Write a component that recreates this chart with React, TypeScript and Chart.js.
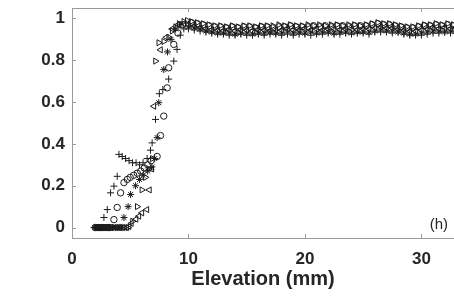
import { useEffect, useRef } from "react";
import { Chart, registerables } from "chart.js";

Chart.register(...registerables);

// ---- Data (elevation in mm, normalized value) ----
// Rising part of each series
const plusRiseX = [1.9, 2.1, 2.3, 2.5, 2.74, 3.03, 3.31, 3.6, 3.88, 4.03, 4.31, 4.6, 4.9, 5.2, 5.5, 5.8, 6.1, 6.45, 6.74, 6.88, 7.17, 7.5, 7.8, 8.3, 8.74, 9.02, 9.3, 9.6];
const plusRiseY = [0, 0, 0, 0, 0.048, 0.086, 0.166, 0.198, 0.245, 0.35, 0.34, 0.33, 0.32, 0.31, 0.31, 0.3, 0.31, 0.33, 0.37, 0.405, 0.517, 0.64, 0.66, 0.71, 0.796, 0.852, 0.92, 0.95];

const circleRiseX = [2.0, 2.25, 2.5, 2.75, 3.0, 3.25, 3.6, 3.88, 4.17, 4.46, 4.75, 5.0, 5.3, 5.6, 5.9, 6.2, 6.5, 6.8, 7.31, 7.6, 7.88, 8.17, 8.3, 8.74, 9.1, 9.5];
const circleRiseY = [0, 0, 0, 0, 0, 0, 0.038, 0.096, 0.166, 0.215, 0.23, 0.24, 0.25, 0.26, 0.27, 0.285, 0.3, 0.32, 0.34, 0.44, 0.533, 0.668, 0.764, 0.876, 0.93, 0.97];

const starRiseX = [1.95, 2.2, 2.45, 2.7, 2.95, 3.2, 3.45, 3.7, 3.95, 4.2, 4.46, 4.82, 5.03, 5.46, 5.8, 6.1, 6.5, 6.86, 7.1, 7.31, 7.45, 7.88, 8.2, 8.5, 8.9, 9.3];
const starRiseY = [0, 0, 0, 0, 0, 0, 0, 0, 0, 0, 0.048, 0.1, 0.158, 0.2, 0.23, 0.25, 0.27, 0.29, 0.33, 0.43, 0.597, 0.756, 0.84, 0.9, 0.95, 0.97];

const triRightRiseX = [2.1, 2.4, 2.7, 3.0, 3.3, 3.6, 3.9, 4.2, 4.5, 4.8, 5.2, 5.6, 6.0, 6.3, 6.6, 6.9, 7.17, 7.45, 7.88, 8.3, 8.6, 8.9, 9.2, 9.6, 9.9];
const triRightRiseY = [0, 0, 0, 0, 0, 0, 0, 0, 0, 0, 0.03, 0.1, 0.18, 0.24, 0.28, 0.33, 0.796, 0.884, 0.89, 0.91, 0.94, 0.96, 0.975, 0.985, 0.99];

const triLeftRiseX = [2.2, 2.6, 3.0, 3.4, 3.8, 4.1, 4.4, 4.7, 4.9, 5.1, 5.5, 5.74, 6.0, 6.43, 6.65, 6.85, 7.03, 7.6, 8.1, 8.6, 9.1, 9.6];
const triLeftRiseY = [0, 0, 0, 0, 0, 0, 0, 0, 0.005, 0.02, 0.04, 0.054, 0.07, 0.086, 0.18, 0.28, 0.58, 0.85, 0.91, 0.95, 0.97, 0.975];

// Plateau part
const plateauElevA = [
  10, 10.5, 11, 11.5, 12, 12.5, 13, 13.5, 14, 14.5,
  15, 15.5, 16, 16.5, 17, 17.5, 18, 18.5, 19, 19.5,
  20, 20.5, 21, 21.5, 22, 22.5, 23, 23.5, 24, 24.5,
  25, 25.5, 26, 26.5, 27, 27.5, 28, 28.5, 29, 29.5,
  30, 30.5, 31, 31.5, 32, 32.5, 33,
];
const plateauElevB = [
  10.25, 10.75, 11.25, 11.75, 12.25, 12.75, 13.25, 13.75, 14.25, 14.75,
  15.25, 15.75, 16.25, 16.75, 17.25, 17.75, 18.25, 18.75, 19.25, 19.75,
  20.25, 20.75, 21.25, 21.75, 22.25, 22.75, 23.25, 23.75, 24.25, 24.75,
  25.25, 25.75, 26.25, 26.75, 27.25, 27.75, 28.25, 28.75, 29.25, 29.75,
  30.25, 30.75, 31.25, 31.75, 32.25, 32.75,
];

const plusPlateau = [
  0.95, 0.945, 0.94, 0.935, 0.93, 0.925, 0.925, 0.92, 0.92, 0.925,
  0.92, 0.92, 0.925, 0.92, 0.925, 0.925, 0.92, 0.925, 0.92, 0.925,
  0.925, 0.92, 0.925, 0.925, 0.93, 0.925, 0.925, 0.93, 0.925, 0.93,
  0.93, 0.925, 0.935, 0.935, 0.935, 0.93, 0.935, 0.925, 0.92, 0.92,
  0.92, 0.925, 0.93, 0.93, 0.935, 0.93, 0.93,
];
const starPlateau = [
  0.96, 0.955, 0.95, 0.94, 0.935, 0.93, 0.93, 0.93, 0.925, 0.93,
  0.93, 0.925, 0.93, 0.93, 0.935, 0.93, 0.93, 0.935, 0.93, 0.935,
  0.93, 0.935, 0.93, 0.935, 0.935, 0.93, 0.935, 0.935, 0.93, 0.935,
  0.935, 0.935, 0.94, 0.945, 0.94, 0.94, 0.935, 0.93, 0.925, 0.925,
  0.93, 0.935, 0.94, 0.94, 0.935, 0.94, 0.94,
];
const triLeftPlateau = [
  0.97, 0.965, 0.955, 0.95, 0.945, 0.945, 0.94, 0.945, 0.94, 0.945,
  0.945, 0.94, 0.945, 0.945, 0.94, 0.945, 0.945, 0.95, 0.945, 0.945,
  0.95, 0.945, 0.95, 0.945, 0.95, 0.95, 0.945, 0.95, 0.95, 0.945,
  0.95, 0.95, 0.955, 0.96, 0.955, 0.955, 0.95, 0.945, 0.94, 0.94,
  0.945, 0.95, 0.955, 0.95, 0.955, 0.95, 0.955,
];
const circlePlateau = [
  0.98, 0.975, 0.97, 0.965, 0.96, 0.96, 0.955, 0.96, 0.955, 0.96,
  0.96, 0.955, 0.96, 0.96, 0.955, 0.96, 0.96, 0.965, 0.96, 0.96,
  0.96, 0.965, 0.96, 0.965, 0.96, 0.965, 0.965, 0.96, 0.965, 0.965,
  0.965, 0.97, 0.975, 0.97, 0.97, 0.965, 0.96, 0.955, 0.955, 0.96,
  0.965, 0.965, 0.97, 0.965, 0.97, 0.965,
];
const triRightPlateau = [
  0.985, 0.98, 0.975, 0.97, 0.965, 0.965, 0.96, 0.965, 0.96, 0.965,
  0.965, 0.96, 0.965, 0.965, 0.965, 0.97, 0.965, 0.97, 0.965, 0.965,
  0.97, 0.965, 0.97, 0.965, 0.97, 0.97, 0.965, 0.97, 0.97, 0.965,
  0.97, 0.975, 0.98, 0.975, 0.975, 0.97, 0.965, 0.96, 0.96, 0.965,
  0.97, 0.97, 0.975, 0.97, 0.975, 0.97,
];

const yTickLabels = ["0", "0.2", "0.4", "0.6", "0.8", "1"];
const xTitle = "Elevation (mm)";
const panelLabel = "(h)";

const FONT = '"Liberation Sans", Arial, Helvetica, sans-serif';
const INK = "#1c1c1c";
const LABEL = "#262626";
const AXIS = "#9a9a9a";

function pts(rx: number[], ry: number[], px: number[], py: number[]) {
  return [
    ...rx.map((x, i) => ({ x, y: ry[i] })),
    ...px.map((x, i) => ({ x, y: py[i] })),
  ];
}

export default function App() {
  const ref = useRef<HTMLCanvasElement>(null);

  useEffect(() => {
    if (!ref.current) return;
    const base = {
      showLine: false,
      borderColor: INK,
      backgroundColor: "rgba(0,0,0,0)",
      pointBorderColor: INK,
      pointBackgroundColor: "rgba(0,0,0,0)",
      pointBorderWidth: 1,
      pointRadius: 3.5,
    };

    const frame = {
      id: "frame",
      afterDraw(chart: any) {
        const { ctx, chartArea: a, scales } = chart;
        ctx.save();
        ctx.strokeStyle = AXIS;
        ctx.lineWidth = 1;
        ctx.beginPath();
        ctx.moveTo(a.left, a.top + 0.5);
        ctx.lineTo(a.right, a.top + 0.5);
        scales.x.ticks.forEach((t: any) => {
          const px = Math.round(scales.x.getPixelForValue(t.value)) + 0.5;
          ctx.moveTo(px, a.bottom);
          ctx.lineTo(px, a.bottom - 4);
          ctx.moveTo(px, a.top);
          ctx.lineTo(px, a.top + 4);
        });
        scales.y.ticks.forEach((t: any) => {
          const py = Math.round(scales.y.getPixelForValue(t.value)) + 0.5;
          ctx.moveTo(a.left, py);
          ctx.lineTo(a.left + 4, py);
        });
        ctx.stroke();
        ctx.fillStyle = LABEL;
        ctx.font = `15px ${FONT}`;
        ctx.textAlign = "right";
        ctx.textBaseline = "middle";
        ctx.fillText(panelLabel, a.right - 6, a.bottom - 13);
        ctx.restore();
      },
    };

    const chart = new Chart(ref.current, {
      type: "scatter",
      data: {
        datasets: [
          { ...base, label: "+", pointStyle: "cross", data: pts(plusRiseX, plusRiseY, plateauElevA, plusPlateau) },
          { ...base, label: "*", pointStyle: "star", data: pts(starRiseX, starRiseY, plateauElevA, starPlateau) },
          { ...base, label: "<", pointStyle: "triangle", rotation: -90, data: pts(triLeftRiseX, triLeftRiseY, plateauElevA, triLeftPlateau) },
          { ...base, label: "o", pointStyle: "circle", pointRadius: 3.2, data: pts(circleRiseX, circleRiseY, plateauElevB, circlePlateau) },
          { ...base, label: ">", pointStyle: "triangle", rotation: 90, data: pts(triRightRiseX, triRightRiseY, plateauElevB, triRightPlateau) },
        ] as any,
      },
      options: {
        animation: false,
        responsive: false,
        layout: { autoPadding: false, padding: { top: 8, left: 0, right: 0, bottom: 0 } },
        plugins: { legend: { display: false }, tooltip: { enabled: false } },
        scales: {
          x: {
            type: "linear",
            position: "bottom",
            min: 0,
            max: 32.8,
            afterFit: (s: any) => {
              s.height = 63;
              s.paddingLeft = 0;
              s.paddingRight = 0;
            },
            grid: { display: false, drawTicks: false },
            border: { display: true, color: AXIS, width: 1 },
            ticks: {
              stepSize: 10,
              includeBounds: false,
              padding: 11,
              maxRotation: 0,
              color: LABEL,
              font: { family: FONT, size: 17, weight: "bold" },
            },
            title: {
              display: true,
              text: xTitle,
              color: LABEL,
              font: { family: FONT, size: 20, weight: "bold" },
              padding: { top: 0, bottom: 10 },
            },
          },
          y: {
            type: "linear",
            min: -0.05,
            max: 1.05,
            afterFit: (s: any) => {
              s.width = 72;
              s.paddingTop = 0;
              s.paddingBottom = 0;
            },
            grid: { display: false, drawTicks: false },
            border: { display: true, color: AXIS, width: 1 },
            ticks: {
              stepSize: 0.2,
              includeBounds: false,
              padding: 7,
              color: LABEL,
              font: { family: FONT, size: 17, weight: "bold" },
              callback: (v: any) => yTickLabels[Math.round(Number(v) / 0.2)] ?? "",
            },
          },
        },
      } as any,
      plugins: [frame],
    });
    return () => chart.destroy();
  }, []);

  return (
    <div style={{ position: "absolute", left: 0, top: 0, width: 454, height: 301, background: "#fff", overflow: "hidden" }}>
      <canvas ref={ref} width={454} height={301} style={{ display: "block" }} />
    </div>
  );
}
